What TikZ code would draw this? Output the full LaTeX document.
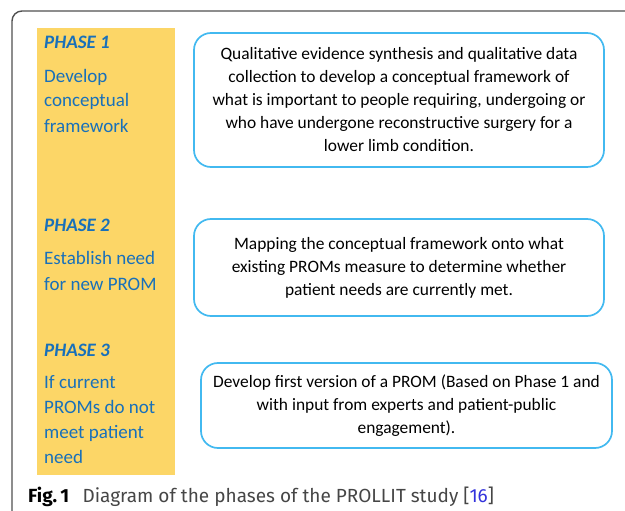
\documentclass[tikz,border=0pt]{standalone}
\usepackage{fontspec}
\setmainfont{Carlito}
\newfontfamily\capfont{Fira Sans}
\definecolor{phaseyellow}{RGB}{252,214,103}
\definecolor{phaseblue}{RGB}{24,112,186}
\definecolor{boxblue}{RGB}{66,185,240}
\definecolor{framegray}{RGB}{80,80,80}
\definecolor{captiongray}{RGB}{70,70,70}
\definecolor{refblue}{RGB}{50,50,220}

\begin{document}
\begin{tikzpicture}[x=1pt,y=-1pt,
  stepbox/.style={draw=boxblue,line width=1.7pt,rounded corners=17pt,align=center,
    font=\fontsize{17.4}{23}\selectfont,inner sep=0pt},
  phasehead/.style={anchor=base west,inner sep=0pt,text=phaseblue,
    font=\fontsize{19}{25}\selectfont\bfseries\itshape},
  phasetext/.style={anchor=base west,inner sep=0pt,text=phaseblue,align=left,
    font=\fontsize{19}{25}\selectfont}]
  \useasboundingbox (0,0) rectangle (625,511);

  %outer frame, cut by the page on the right and at the bottom
  \draw[framegray,line width=1.4pt,rounded corners=10pt] (12,511) -- (12,11) -- (625,11);

  %yellow phase column
  \fill[phaseyellow] (37,28) rectangle (175,475);

  %phase labels (base of a text is its last line)
  \node[phasehead] (head1) at (44,49) {PHASE 1};
  \node[phasetext] (what1) at (44,132) {Develop\\conceptual\\framework};
  \node[phasehead] (head2) at (44,232) {PHASE 2};
  \node[phasetext] (what2) at (44,290) {Establish need\\for new PROM};
  \node[phasehead] (head3) at (44,356) {PHASE 3};
  \node[phasetext] (what3) at (44,463) {If current\\PROMs do not\\meet patient\\need};

  %boxes with the work of each phase
  \node[stepbox,minimum width=410pt,minimum height=134pt] (step1) at (399,100)
    {Qualitative evidence synthesis and qualitative data\\
     collection to develop a conceptual framework of\\
     what is important to people requiring, undergoing or\\
     who have undergone reconstructive surgery for a\\
     lower limb condition.};
  \node[stepbox,minimum width=410pt,minimum height=97pt] (step2) at (399,267.5)
    {Mapping the conceptual framework onto what\\
     existing PROMs measure to determine whether\\
     patient needs are currently met.};
  \node[stepbox,minimum width=411pt,minimum height=85pt] (step3) at (406.5,405.5)
    {Develop first version of a PROM (Based on Phase 1 and\\
     with input from experts and patient-public\\
     engagement).};

  %caption
  \node[anchor=base west,inner sep=0pt,font=\capfont\fontsize{19}{23}\selectfont] (caption) at (28,502)
    {\textbf{Fig.\,1}\hspace{0.7em}\textcolor{captiongray}{Diagram of the phases of the PROLLIT study [\textcolor{refblue}{16}]}};
\end{tikzpicture}
\end{document}
